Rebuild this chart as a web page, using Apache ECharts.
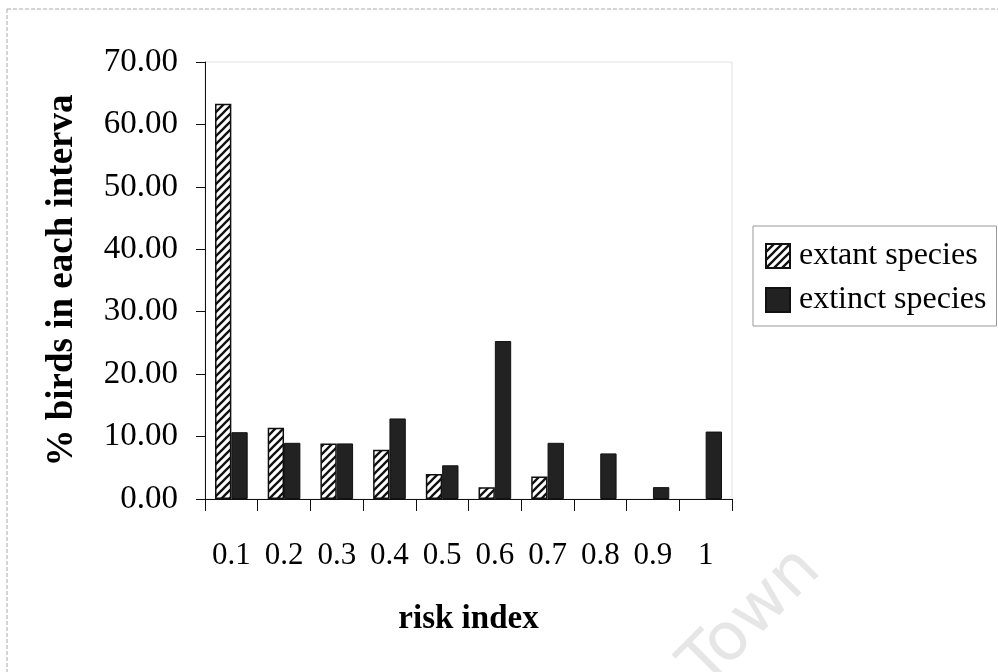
<!DOCTYPE html>
<html>
<head>
<meta charset="utf-8">
<script src="https://cdn.jsdelivr.net/npm/echarts@6/dist/echarts.min.js"></script>
<style>
  html, body { margin: 0; padding: 0; background: #fff; }
  #chart { width: 998px; height: 672px; }
</style>
</head>
<body>
<div id="chart"></div>
<script>
// risk index intervals
var categories = ['0.1', '0.2', '0.3', '0.4', '0.5', '0.6', '0.7', '0.8', '0.9', '1'];
// % birds in each interval
var extant = [63.3, 11.4, 8.9, 7.9, 4.0, 1.9, 3.6, 0, 0, 0];
var extinct = [10.7, 9.0, 8.9, 12.9, 5.4, 25.3, 9.0, 7.3, 1.9, 10.8];
var yTicks = [0, 10, 20, 30, 40, 50, 60, 70];

var serif = '"Liberation Serif", "Times New Roman", serif';

// hatch pattern for the extant bars (white with "/" stripes)
function makeHatch() {
  var c = document.createElement('canvas');
  c.width = 8; c.height = 8;
  var g = c.getContext('2d');
  g.fillStyle = '#fff';
  g.fillRect(0, 0, 8, 8);
  g.strokeStyle = '#111';
  g.lineWidth = 2.3;
  g.beginPath();
  g.moveTo(-2, 10); g.lineTo(10, -2);
  g.moveTo(-6, 6); g.lineTo(6, -6);
  g.moveTo(2, 14); g.lineTo(14, 2);
  g.stroke();
  return c;
}
var hatch = { image: makeHatch(), repeat: 'repeat' };

// zero-height bars leave no mark in the original
function toData(arr) {
  return arr.map(function (v) {
    return v === 0 ? { value: 0, itemStyle: { borderWidth: 0 } } : v;
  });
}

var myChart = echarts.init(document.getElementById('chart'));
myChart.setOption({
  backgroundColor: '#fff',
  animation: false,
  grid: {
    left: 205, right: 266, top: 62, bottom: 173,
    show: true, borderColor: '#e2e2e2', borderWidth: 1
  },
  legend: {
    orient: 'vertical',
    left: 753, top: 226,
    icon: 'rect',
    itemWidth: 24, itemHeight: 24, itemGap: 12,
    padding: [14, 10, 10, 12],
    borderColor: '#999', borderWidth: 1,
    textStyle: { fontFamily: serif, fontSize: 32, color: '#000', padding: [0, 0, 0, 4] },
    data: ['extant species', 'extinct species']
  },
  xAxis: {
    type: 'category',
    data: categories,
    name: 'risk index',
    nameLocation: 'middle',
    nameGap: 104,
    nameTextStyle: { fontFamily: serif, fontSize: 33, fontWeight: 'bold', color: '#000' },
    axisLine: { lineStyle: { color: '#111', width: 1 } },
    axisTick: { show: true, length: 12, lineStyle: { color: '#111' } },
    axisLabel: { fontFamily: serif, fontSize: 31, color: '#000', margin: 41 }
  },
  yAxis: {
    type: 'value',
    min: 0, max: 70, interval: 10,
    name: '% birds in each interva',
    nameLocation: 'middle',
    nameGap: 124,
    nameTextStyle: { fontFamily: serif, fontSize: 37, fontWeight: 'bold', color: '#000' },
    axisLine: { show: true, lineStyle: { color: '#111', width: 1 } },
    axisTick: { show: true, length: 9, lineStyle: { color: '#111' } },
    splitLine: { show: false },
    axisLabel: {
      fontFamily: serif, fontSize: 33, color: '#000', margin: 27,
      formatter: function (v) { return yTicks.indexOf(v) >= 0 ? v.toFixed(2) : ''; }
    }
  },
  series: [
    {
      name: 'extant species',
      type: 'bar',
      data: toData(extant),
      barGap: '0%',
      barCategoryGap: '38%',
      itemStyle: { color: hatch, borderColor: '#111', borderWidth: 1.5 }
    },
    {
      name: 'extinct species',
      type: 'bar',
      data: toData(extinct),
      itemStyle: { color: '#222', borderColor: '#111', borderWidth: 1 }
    }
  ],
  graphic: [
    {
      type: 'rect',
      shape: { x: 7, y: 9, width: 1000, height: 700 },
      style: { fill: 'none', stroke: '#aaa', lineWidth: 1, lineDash: [4, 2] },
      silent: true
    },
    {
      type: 'text',
      x: 752, y: 618,
      rotation: Math.PI / 4,
      style: {
        text: 'Town', fill: '#e6e6e6',
        font: '66px "DejaVu Sans", sans-serif',
        align: 'center', verticalAlign: 'middle'
      },
      silent: true,
      z: -1
    }
  ]
});
</script>
</body>
</html>
